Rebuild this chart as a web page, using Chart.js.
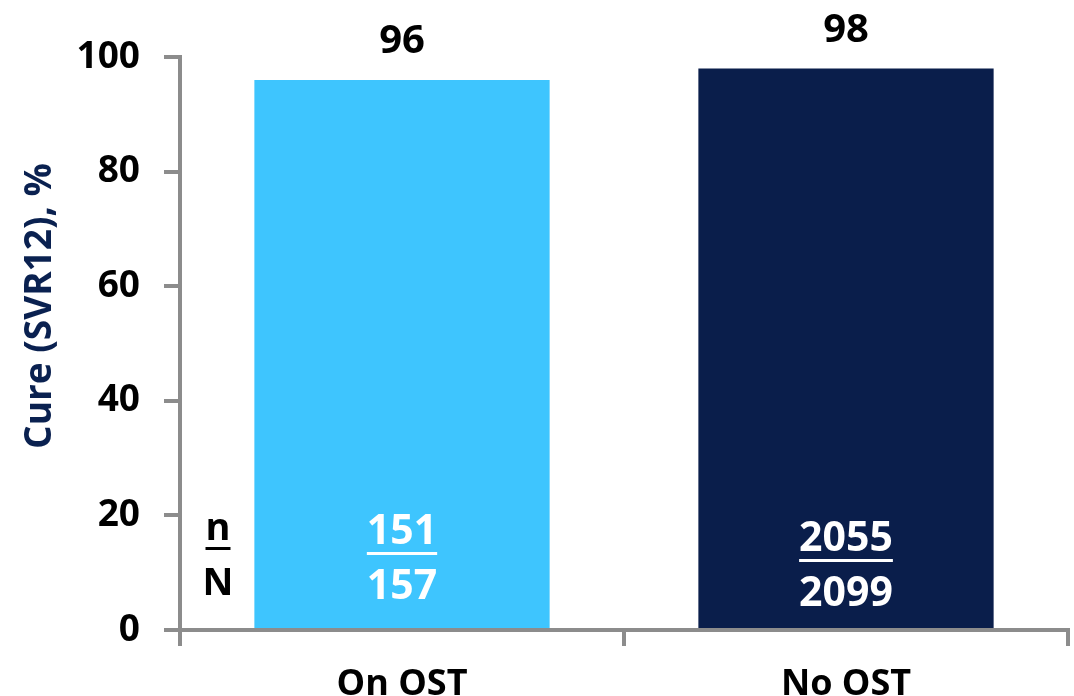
<!DOCTYPE html>
<html>
<head>
<meta charset="utf-8">
<script src="https://cdn.jsdelivr.net/npm/chart.js@4/dist/chart.umd.min.js"></script>
<style>
  html, body { margin: 0; padding: 0; background: #fff; }
  #wrap { width: 1074px; height: 696px; }
</style>
</head>
<body>
<div id="wrap"><canvas id="chart"></canvas></div>
<script>
const categories = ['On OST', 'No OST'];
const cureRates = [96, 98];
const curedCounts = ['151', '2055'];
const totalCounts = ['157', '2099'];
const yTicks = [0, 20, 40, 60, 80, 100];

const BAR_COLORS = ['#3ec5fe', '#0a1e4b'];
const AXIS_GREY = '#8c8c8c';
const FONT = '"Open Sans", "DejaVu Sans", sans-serif';

// draws value labels, n/N counts and the y title
const labelPlugin = {
  id: 'labels',
  afterDraw(chart) {
    const ctx = chart.ctx;
    const meta = chart.getDatasetMeta(0);
    const bottom = chart.chartArea.bottom;
    ctx.save();
    ctx.textAlign = 'center';
    ctx.textBaseline = 'middle';

    meta.data.forEach((bar, i) => {
      ctx.fillStyle = '#000';
      ctx.font = `bold 40px ${FONT}`;
      ctx.fillText(String(cureRates[i]), bar.x, bar.y - 38);

      ctx.fillStyle = '#fff';
      ctx.font = `bold 41px ${FONT}`;
      const off = i === 0 ? 0 : 7;
      ctx.fillText(curedCounts[i], bar.x, bottom - 98 + off);
      ctx.fillText(totalCounts[i], bar.x, bottom - 43 + off);
      const w = ctx.measureText(curedCounts[i]).width;
      ctx.fillRect(bar.x - w / 2, bottom - 78 + off, w, 3);
    });

    // n / N legend left of first bar
    ctx.fillStyle = '#000';
    ctx.font = `bold 38px ${FONT}`;
    ctx.fillText('n', 218, bottom - 101);
    ctx.fillText('N', 218, bottom - 46);
    const nw = ctx.measureText('n').width;
    ctx.fillRect(218 - nw / 2, bottom - 83, nw, 3);

    // y axis title
    ctx.translate(40, 306);
    ctx.rotate(-Math.PI / 2);
    ctx.fillStyle = '#0a2150';
    ctx.font = `bold 37px ${FONT}`;
    ctx.fillText('Cure (SVR12), %', 0, 0);
    ctx.restore();
  }
};

new Chart(document.getElementById('chart'), {
  type: 'bar',
  data: {
    labels: categories,
    datasets: [{
      data: cureRates,
      backgroundColor: BAR_COLORS,
      borderWidth: 0,
      categoryPercentage: 0.665,
      barPercentage: 1
    }]
  },
  options: {
    responsive: true,
    maintainAspectRatio: false,
    animation: false,
    layout: { padding: { top: 57, right: 6, left: 0, bottom: 0 } },
    scales: {
      x: {
        z: 1,
        grid: { drawOnChartArea: false, tickLength: 16, color: AXIS_GREY, lineWidth: 4, offset: true },
        border: { color: AXIS_GREY, width: 4 },
        ticks: { color: '#000', padding: 17, font: { family: FONT, size: 36, weight: 'bold' } },
        afterFit: (s) => { s.height = 66; }
      },
      y: {
        z: 1,
        min: 0,
        max: 100,
        afterBuildTicks: (s) => { s.ticks = yTicks.map(v => ({ value: v })); },
        grid: { drawOnChartArea: false, tickLength: 16, color: AXIS_GREY, lineWidth: 4 },
        border: { color: AXIS_GREY, width: 4 },
        ticks: { color: '#000', padding: 24, font: { family: FONT, size: 37, weight: 'bold' } },
        afterFit: (s) => { s.width = 180; }
      }
    },
    plugins: {
      legend: { display: false },
      tooltip: { enabled: false }
    }
  },
  plugins: [labelPlugin]
});
</script>
</body>
</html>
